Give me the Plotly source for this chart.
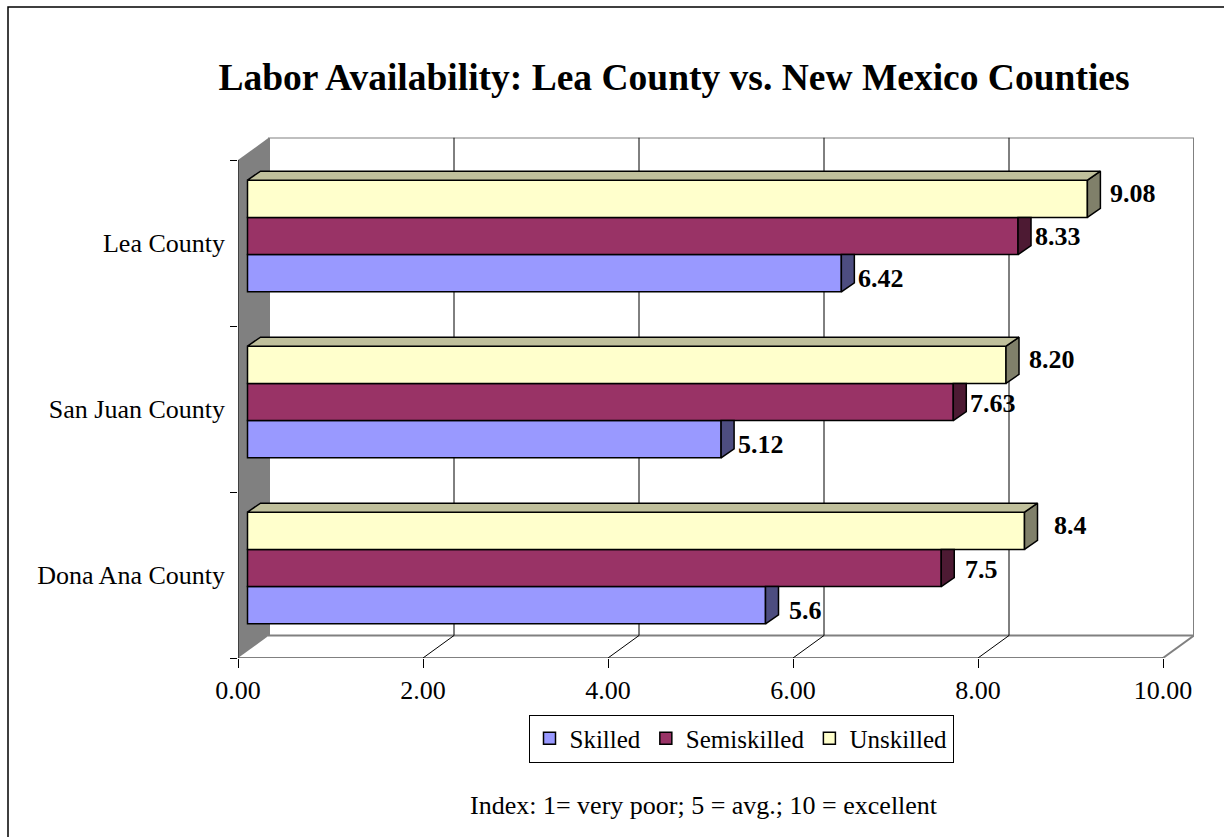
import plotly.graph_objects as go

# ---------------- data ----------------
counties = ["Lea County", "San Juan County", "Dona Ana County"]
series_names = ["Skilled", "Semiskilled", "Unskilled"]
skilled = [6.42, 5.12, 5.6]
semiskilled = [8.33, 7.63, 7.5]
unskilled = [9.08, 8.20, 8.4]
label_decimals = [2, 2, 1]          # decimals shown for each county's labels
x_tick_values = [0, 2, 4, 6, 8, 10]
title_text = "Labor Availability: Lea County vs. New Mexico Counties"
axis_note = "Index: 1= very poor; 5 = avg.; 10 = excellent"

series_values = [skilled, semiskilled, unskilled]

# ---------------- styling ----------------
FONT = "Liberation Serif"
face_colors = ["#9999FF", "#993366", "#FFFFCC"]
side_colors = ["#4D4D80", "#4D1A33", "#80806A"]
top_colors = ["#7373BF", "#73264D", "#C0C09C"]
label_dx = [40, 40, 46]     # px from bar end to label centre
label_dy = [-5, -1, 5]      # px vertical nudge of labels

W, H = 1224, 837
FRONT_X0, FRONT_X1 = 238, 1163     # front plane: value 0 and 10
FRONT_YT, FRONT_YB = 160, 658      # front plane: top / floor
WALL_DX, WALL_DY = 31, 22.5        # depth of the box
BAR_DX, BAR_DY = 9.5, 7            # bars sit this far into the box
CAP_DX, CAP_DY = 13, 9             # bar thickness (depth)
X_MAX = 10
GROUP = 0.673                      # share of a category taken by bars

n_cat = len(counties)
ppx = (FRONT_X1 - FRONT_X0) / X_MAX
ppy = (FRONT_YB - FRONT_YT) / n_cat
wdx, wdy = WALL_DX / ppx, WALL_DY / ppy
cdx, cdy = CAP_DX / ppx, CAP_DY / ppy

pos = list(range(n_cat - 1, -1, -1))   # first county at the top
bar_w = GROUP / len(series_values)

x_range = [0, X_MAX + wdx]
y_range = [-0.5, n_cat - 0.5 + wdy]
x2_range = [r - BAR_DX / ppx for r in x_range]
y2_range = [r - BAR_DY / ppy for r in y_range]

fig = go.Figure()

# front faces of the bars
for k, vals in enumerate(series_values):
    fig.add_trace(go.Bar(
        y=pos, x=vals, orientation="h", name=series_names[k],
        marker=dict(color=face_colors[k], line=dict(color="black", width=1.5)),
        xaxis="x2", yaxis="y2", hoverinfo="skip",
    ))

# end caps and top faces giving the bars depth
for k, vals in enumerate(series_values):
    sx, sy = [], []
    tx, ty = [], []
    is_top = k == len(series_values) - 1
    for i, (c, v) in enumerate(zip(pos, vals)):
        yb = c - GROUP / 2 + k * bar_w
        yt = yb + bar_w
        hidden = (not is_top) and series_values[k + 1][i] >= v + cdx
        y_clip = yt if hidden else yt + cdy
        sx += [v, v + cdx, v + cdx, v, v, None]
        sy += [yb, yb + cdy, y_clip, yt, yb, None]
        if is_top:
            tx += [0, v, v + cdx, cdx, 0, None]
            ty += [yt, yt, yt + cdy, yt + cdy, yt, None]
    fig.add_trace(go.Scatter(
        x=sx, y=sy, mode="lines", fill="toself", fillcolor=side_colors[k],
        line=dict(color="black", width=1.5), showlegend=False,
        hoverinfo="skip", xaxis="x2", yaxis="y2",
    ))
    if tx:
        fig.add_trace(go.Scatter(
            x=tx, y=ty, mode="lines", fill="toself", fillcolor=top_colors[k],
            line=dict(color="black", width=1.5), showlegend=False,
            hoverinfo="skip", xaxis="x2", yaxis="y2",
        ))

# value labels
annotations = []
for k, vals in enumerate(series_values):
    for i, (c, v) in enumerate(zip(pos, vals)):
        yc = c - GROUP / 2 + (k + 0.5) * bar_w
        annotations.append(dict(
            x=v, y=yc, xref="x2", yref="y2",
            text=f"<b>{v:.{label_decimals[i]}f}</b>", showarrow=False,
            xanchor="center", yanchor="middle",
            xshift=label_dx[k], yshift=label_dy[k],
            font=dict(family=FONT, size=26, color="black"),
        ))

annotations.append(dict(
    x=704 / W, y=1 - 805 / H, xref="paper", yref="paper", text=axis_note,
    showarrow=False, xanchor="center", yanchor="middle",
    font=dict(family=FONT, size=26, color="black"),
))

# box: back wall, side wall, floor
shapes = []
floor_b, top_b = -0.5 + wdy, n_cat - 0.5 + wdy
shapes.append(dict(type="rect", xref="x", yref="y", x0=wdx, x1=X_MAX + wdx,
                   y0=floor_b, y1=top_b, fillcolor="white",
                   line=dict(color="#808080", width=2), layer="below"))
for v in x_tick_values[1:-1]:
    shapes.append(dict(type="line", xref="x", yref="y", x0=v + wdx, x1=v + wdx,
                       y0=floor_b, y1=top_b, line=dict(color="black", width=1),
                       layer="below"))
    shapes.append(dict(type="line", xref="x", yref="y", x0=v, x1=v + wdx,
                       y0=-0.5, y1=floor_b, line=dict(color="black", width=1),
                       layer="below"))
shapes.append(dict(type="path", xref="x", yref="y",
                   path=f"M0,-0.5 L{wdx},{floor_b} L{wdx},{top_b} L0,{n_cat - 0.5} Z",
                   fillcolor="#808080", line=dict(width=0), layer="below"))
shapes.append(dict(type="line", xref="x", yref="y", x0=X_MAX, x1=X_MAX + wdx,
                   y0=-0.5, y1=floor_b, line=dict(color="#808080", width=2),
                   layer="below"))
shapes.append(dict(type="line", xref="x", yref="y", x0=0, x1=X_MAX,
                   y0=-0.5, y1=-0.5, line=dict(color="black", width=1)))
shapes.append(dict(type="line", xref="x", yref="y", x0=0, x1=0,
                   y0=-0.5, y1=n_cat - 0.5, line=dict(color="black", width=1)))
# chart frame
shapes.append(dict(type="rect", xref="paper", yref="paper",
                   x0=8 / W, x1=1.02, y0=-0.02, y1=1 - 7 / H,
                   line=dict(color="black", width=1.5)))

x_dom = [FRONT_X0 / W, (FRONT_X1 + WALL_DX) / W]
y_dom = [1 - FRONT_YB / H, 1 - (FRONT_YT - WALL_DY) / H]

fig.update_layout(
    template="none",
    width=W, height=H,
    margin=dict(l=0, r=0, t=0, b=0, autoexpand=False),
    paper_bgcolor="white", plot_bgcolor="rgba(0,0,0,0)",
    barmode="group", bargap=1 - GROUP, bargroupgap=0,
    hovermode=False,
    font=dict(family=FONT, color="black"),
    title=dict(text=f"<b>{title_text}</b>", x=674 / W, xanchor="center",
               y=1 - 77 / H, yanchor="middle",
               font=dict(family=FONT, size=37.5, color="black")),
    xaxis=dict(domain=x_dom, range=x_range, tickvals=x_tick_values,
               tickformat=".2f", ticks="outside", ticklen=9, tickcolor="black",
               tickwidth=1, showline=False, showgrid=False, zeroline=False,
               tickfont=dict(family=FONT, size=26, color="black"),
               anchor="y", fixedrange=True, automargin=False),
    yaxis=dict(domain=y_dom, range=y_range, tickvals=pos, ticktext=counties,
               ticks="", showline=False, showgrid=False, zeroline=False,
               ticklabelstandoff=12,
               minor=dict(tickvals=[p - 0.5 for p in range(n_cat + 1)],
                          ticks="outside", ticklen=7, tickcolor="black",
                          tickwidth=1, showgrid=False),
               tickfont=dict(family=FONT, size=26, color="black"),
               anchor="x", fixedrange=True, automargin=False),
    xaxis2=dict(overlaying="x", range=x2_range, visible=False, anchor="y2",
                fixedrange=True, automargin=False),
    yaxis2=dict(overlaying="y", range=y2_range, visible=False, anchor="x2",
                fixedrange=True, automargin=False),
    legend=dict(orientation="h", x=741 / W, xanchor="center",
                y=1 - 738.5 / H, yanchor="middle", bordercolor="black",
                borderwidth=1, bgcolor="white", traceorder="normal",
                font=dict(family=FONT, size=25, color="black")),
    shapes=shapes,
    annotations=annotations,
)

fig.write_html("out.html")
